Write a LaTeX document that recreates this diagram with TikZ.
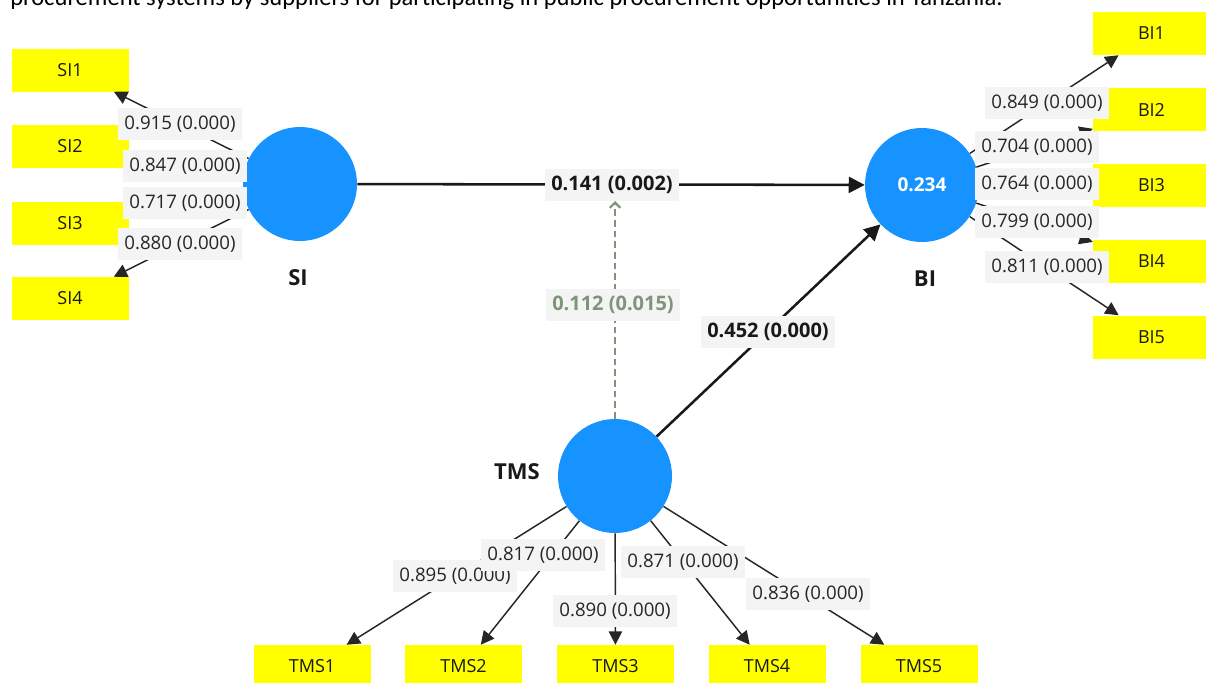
\documentclass[tikz,border=0pt]{standalone}
\usepackage{fontspec}
\setmainfont{Open Sans}
\newfontfamily\capfont{Carlito}
\usetikzlibrary{arrows.meta}
\definecolor{plsblue}{RGB}{22,147,255}
\definecolor{plsyellow}{RGB}{255,255,0}
\definecolor{modgreen}{RGB}{128,148,124}
\definecolor{lblgray}{RGB}{244,244,244}
\begin{document}
\begin{tikzpicture}[x=0.75pt,y=-0.75pt,
  ind/.style={fill=plsyellow, minimum width=87.75pt, minimum height=32.25pt, inner sep=0pt, font=\fontsize{13.5}{15}\selectfont, text=black!90},
  lat/.style={circle, fill=plsblue, minimum size=85.5pt, inner sep=0pt},
  latname/.style={font=\bfseries\fontsize{16.5}{18}\selectfont, text=black!90, inner sep=0pt},
  load/.style={line width=1.1pt, draw=black!85, -{Triangle[length=10pt,width=10pt]}},
  struct/.style={line width=1.9pt, draw=black!90, -{Triangle[length=12pt,width=12pt]}},
  modline/.style={line width=1.6pt, draw=modgreen, dash pattern=on 5pt off 3pt, -{Straight Barb[length=4pt,width=8pt]}},
  lbl/.style={fill=lblgray, inner xsep=4.5pt, inner ysep=0pt, minimum height=23.5pt, font=\fontsize{14}{16}\selectfont, text=black!85},
  blbl/.style={lbl, font=\bfseries\fontsize{15}{17}\selectfont, text=black!90, inner xsep=5pt},
  mlbl/.style={blbl, text=modgreen}
]
\useasboundingbox (0,0) rectangle (1206,682);
\node[anchor=base west, font=\capfont\fontsize{18.4}{20}\selectfont, inner sep=0pt] (cap) at (10,5) {procurement systems by suppliers for participating in public procurement opportunities in Tanzania.};

% indicators
\node[ind] (SI1) at (70,70) {SI1};
\node[ind] (SI2) at (70,146.5) {SI2};
\node[ind] (SI3) at (70,223) {SI3};
\node[ind] (SI4) at (70,298.5) {SI4};
\node[ind] (BI1) at (1151.5,33.5) {BI1};
\node[ind] (BI2) at (1151.5,109.5) {BI2};
\node[ind] (BI3) at (1151.5,185.5) {BI3};
\node[ind] (BI4) at (1151.5,261.5) {BI4};
\node[ind] (BI5) at (1151.5,337) {BI5};
\node[ind] (TMS1) at (312,666.5) {TMS1};
\node[ind] (TMS2) at (463.5,666.5) {TMS2};
\node[ind] (TMS3) at (615.5,666.5) {TMS3};
\node[ind] (TMS4) at (767,666.5) {TMS4};
\node[ind] (TMS5) at (919,666.5) {TMS5};

% latent variables
\node[lat] (SI) at (300,184) {};
\node[lat, text=white, font=\bfseries\fontsize{14.3}{16}\selectfont] (BI) at (922,185) {0.234};
\node[lat] (TMS) at (615,476) {};
\node[latname] (SIn) at (298,278) {SI};
\node[latname] (BIn) at (925,279) {BI};
\node[latname] (TMSn) at (517,472) {TMS};

% loadings
\foreach \i in {1,...,4} {\draw[load] (SI) -- (SI\i);}
\foreach \i in {1,...,5} {\draw[load] (BI) -- (BI\i);}
\foreach \i in {1,...,5} {\draw[load] (TMS) -- (TMS\i);}

% structural paths
\draw[struct] (SI) -- (BI);
\draw[struct] (TMS) -- (BI);
\coordinate (modend) at (615,201);
\draw[modline] (TMS.north) -- (modend);

% labels
\node[lbl] (l1) at (180,124) {0.915 (0.000)};
\node[lbl] (l2) at (185,166) {0.847 (0.000)};
\node[lbl] (l3) at (185,203) {0.717 (0.000)};
\node[lbl] (l4) at (180,244) {0.880 (0.000)};
\node[lbl] (l5) at (1047,103) {0.849 (0.000)};
\node[lbl] (l6) at (1037,147) {0.704 (0.000)};
\node[lbl] (l7) at (1037,184) {0.764 (0.000)};
\node[lbl] (l8) at (1037,222) {0.799 (0.000)};
\node[lbl] (l9) at (1047,267) {0.811 (0.000)};
\node[lbl] (l10) at (455,576) {0.895 (0.000)};
\node[lbl] (l11) at (543,555) {0.817 (0.000)};
\node[lbl] (l12) at (615,611) {0.890 (0.000)};
\node[lbl] (l13) at (683,562) {0.871 (0.000)};
\node[lbl] (l14) at (808,594) {0.836 (0.000)};
\node[blbl] (p1) at (612,185) {0.141 (0.002)};
\node[blbl] (p2) at (768,332) {0.452 (0.000)};
\node[mlbl] (p3) at (613,305) {0.112 (0.015)};
\end{tikzpicture}
\end{document}
